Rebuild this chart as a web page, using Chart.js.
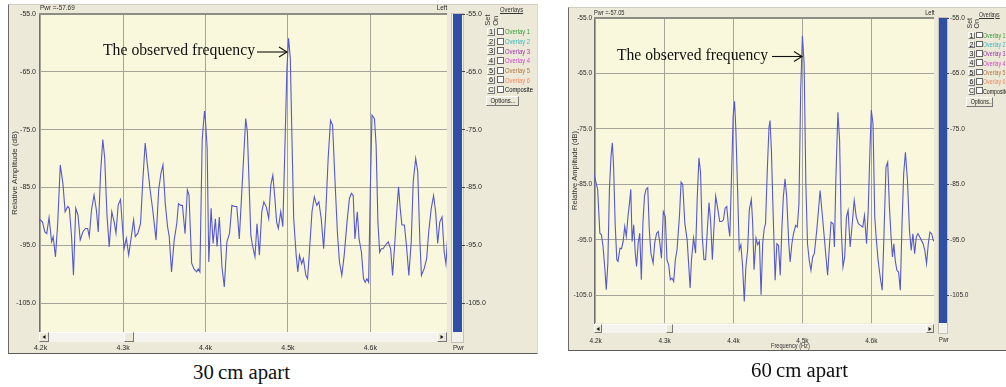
<!DOCTYPE html>
<html><head><meta charset="utf-8">
<script src="https://cdn.jsdelivr.net/npm/chart.js@4.4.0/dist/chart.umd.min.js"></script>
<style>
html,body{margin:0;padding:0;background:#fff;}
body{width:1006px;height:387px;position:relative;overflow:hidden;font-family:'Liberation Sans',Arial,sans-serif;}
.a{position:absolute;box-sizing:border-box;}
.t{position:absolute;white-space:nowrap;color:#2a2a2a;}
.serif{font-family:'Liberation Serif','Times New Roman',serif;color:#111;}
.panel{background:#ece9d8;border-left:1px solid #6a6a6a;border-bottom:1px solid #5c5c5c;border-top:1px solid #cfcdc0;border-right:1px solid #dcdacd;}
.btn{background:#ece9d8;border:1px solid;border-color:#fff #777 #777 #fff;overflow:hidden;}
.cb{background:#fff;border:1px solid #666;}
.in{display:inline-block;transform-origin:50% 50%;}
canvas{position:absolute;}
</style></head><body>
<script>
// ---------------- data ----------------
const yTicks = [-105, -95, -85, -75, -65, -55];
const xTicks = [4200, 4300, 4400, 4500, 4600];
const yRange = [-110, -55];
const pwrRange = [-110, -55];
const pwrReadings = ['-57.69', '-57.05'];
const captions = ['30\u2009cm apart', '60\u2009cm apart'];
const annotationText = 'The observed frequency';
const overlayKeys = ['1', '2', '3', '4', '5', '6', 'C'];
const overlayNames = ['Overlay 1', 'Overlay 2', 'Overlay 3', 'Overlay 4', 'Overlay 5', 'Overlay 6', 'Composite'];

// 30 cm apart
const freq30 = [4198,4202.3,4205.1,4207.4,4210.2,4213.3,4215.2,4218,4220.7,4223.8,4227,4229.7,4232.8,4234.8,4237.5,4239.8,4242.6,4245.3,4248,4251.2,4254.3,4257,4259,4261.7,4264.8,4267.6,4269.9,4272.7,4275.4,4277.7,4280.5,4283.2,4286.3,4289.1,4291.4,4294.1,4296.9,4298.8,4301.2,4304,4306.8,4310,4312.8,4314.8,4318,4321.2,4324,4326.8,4330,4332.8,4336,4340,4343.2,4346,4348.4,4351.2,4354,4356,4358.8,4362,4365.2,4367.2,4370,4372,4375.2,4378,4380,4383.2,4386,4389.2,4391.2,4393.2,4396,4398.8,4400,4402,4404,4406.8,4409.2,4412,4414,4416.8,4420,4422.8,4426,4429.2,4432,4435.2,4438,4441,4448.8,4450.8,4455,4457,4460,4462.5,4465.4,4468.3,4470.8,4473.8,4476.7,4479.2,4481.7,4484.2,4486.3,4488.3,4491.3,4493.8,4496.7,4498.8,4500.8,4502.9,4505,4507,4510,4512,4514,4516.7,4518.8,4521.7,4523.8,4525.8,4529.2,4532,4535,4537.5,4540.4,4543.3,4545.8,4548.8,4551.7,4554.2,4557,4560,4562.5,4565.4,4568.3,4571.7,4574.6,4577,4579.2,4581.3,4584.2,4586.3,4589.2,4591.7,4593.8,4595.8,4597.9,4600,4602,4605,4607,4609.2,4611.3,4613.3,4615.4,4618.3,4621.7,4624.6,4627,4630,4632,4634.2,4636.3,4638.3,4641.3,4643.8,4646.7,4649.6,4652,4655,4657.5,4660,4662,4665.4,4668.3,4670.8,4673.8,4676.7,4679.2,4681.7,4684.2,4687,4689.6,4691.7,4694.2];
const amp30 = [-90.4,-91,-92.7,-93,-90.2,-94.4,-93.5,-97,-91.2,-81.1,-84.3,-89.2,-88.3,-88.6,-93.5,-100.2,-88.6,-89.8,-94.1,-92.7,-92.1,-92.1,-93.5,-88.9,-86.3,-88.9,-92.7,-82.5,-76.7,-79.9,-89.8,-95.3,-89.2,-90.9,-92.9,-88,-87.1,-90.9,-95.6,-93.8,-96.7,-93.5,-90.6,-93.5,-92.9,-91.2,-83.7,-77.3,-81.7,-85.4,-88.9,-94.1,-85.4,-82.5,-81.1,-87.8,-91.8,-93.5,-99.6,-94.1,-91.2,-87.8,-88.1,-88.1,-93,-85.4,-86.3,-98.1,-99.1,-99.6,-99.1,-99.6,-76.7,-71.8,-73.5,-78.2,-97.9,-88.6,-94.7,-90.4,-95.2,-90.1,-98.8,-102.2,-94.4,-92.9,-88.1,-88.3,-88.3,-93.9,-73.1,-75.4,-93.3,-95,-97,-91.3,-96.7,-89.2,-87.5,-88.4,-90.4,-84.6,-82.9,-86.9,-91,-92.1,-89.2,-91.8,-76,-64.4,-59.2,-62.7,-77.1,-90.4,-96.7,-99.6,-96.7,-98.2,-97.3,-100.2,-100.8,-96.7,-89.2,-86.6,-88.1,-87.5,-90.4,-95.6,-89.8,-80,-73.4,-74.2,-83.5,-92.7,-97.9,-100.2,-96.7,-91,-86.9,-86,-86.4,-93.9,-89.2,-93.9,-96.2,-100.8,-101.4,-100.8,-101.4,-85.2,-72.5,-73.1,-77.7,-91,-96.2,-95.6,-95.6,-95,-94.4,-95.6,-100.2,-93.9,-89.2,-84.9,-88.7,-91.5,-91.5,-95,-100.2,-94.4,-84,-80,-82.3,-93.9,-100.2,-99,-97.3,-92.7,-88.7,-86.4,-89.2,-94.7,-91,-90.1,-96.2,-98.2,-92.7];

// 60 cm apart
const freq60 = [4197.5,4202.8,4206,4208.3,4210.6,4213,4215.3,4217.6,4219.9,4222.2,4224.1,4225.9,4228.2,4230.6,4232.4,4235.2,4237.5,4239.8,4242.1,4244.4,4246.8,4249.1,4250.9,4252.8,4255.1,4257.4,4259.3,4261.6,4263.9,4266.2,4268.5,4270.8,4273.1,4275.5,4277.8,4280.1,4283.3,4285.6,4288.4,4290.7,4293.1,4295.4,4298.1,4301,4303.4,4305.9,4308.3,4310.7,4313.2,4315.6,4318,4321.5,4323.9,4326.3,4329.3,4332.7,4335.1,4337,4339,4342,4344.9,4347.3,4349.8,4352.2,4354.6,4357.1,4359.5,4362,4364.4,4366.8,4369.3,4371.7,4374.1,4377,4380,4382.9,4385.4,4387.8,4390.2,4392.7,4394.6,4397,4399.5,4401.5,4403.4,4405.9,4408.3,4410.7,4413.2,4415.6,4418,4420.5,4422.9,4425.9,4427.8,4429.8,4432.7,4435.1,4437.6,4440,4442.4,4444.5,4446.5,4449,4451.5,4453,4455,4457.4,4460.4,4462.9,4465.3,4467.8,4470.3,4472.3,4474.8,4477.2,4480.2,4482.2,4484.7,4487.1,4490.1,4492.6,4495,4497.5,4500,4502.5,4505,4507.4,4509.9,4512.4,4514.9,4517.3,4520.8,4523.3,4525.7,4528.7,4531.7,4534.2,4536.6,4539.1,4541.6,4544.6,4546.5,4548.5,4551.5,4554,4556.4,4558.9,4561.4,4563.9,4566.3,4569.3,4572.3,4575.2,4578.2,4581.2,4584.2,4587.6,4590.1,4593.1,4595.5,4598,4600,4602.5,4605,4607.4,4609.9,4612.9,4615.8,4618.3,4621.3,4623.8,4626.2,4628.7,4630.7,4632.7,4634.7,4637.1,4639.6,4642.1,4644.6,4647,4649.5,4652.5,4655.4,4657.9,4660.4,4662.9,4665.3,4667.8,4670.3,4672.8,4675.2,4677.7,4680.2,4682.7,4685.1,4687.6,4690.1,4692.6,4695];
const amp60 = [-83.2,-85.9,-93.8,-94.1,-96.2,-99.8,-104,-99.2,-85.9,-79.9,-77.5,-81.7,-92,-98.6,-98.9,-96.5,-96.6,-95.3,-92.6,-94.4,-90.8,-88.3,-85.9,-95.3,-92.3,-97.4,-99.8,-95.6,-93.8,-102.2,-92,-87.1,-85.9,-85.6,-93.2,-97.4,-99.2,-95.6,-93.8,-93.5,-95.6,-98.3,-89.9,-90.8,-98.6,-99.5,-102.2,-101.9,-102.5,-98.6,-96.8,-90.8,-84.6,-85,-92,-95,-99.8,-103.7,-98.6,-94.7,-97.4,-87.7,-80.2,-82.9,-94.4,-98.6,-98.6,-93.2,-88.3,-91.7,-98.6,-92.6,-87.1,-89.3,-91.7,-91.7,-91.4,-89.3,-89,-92.6,-94.4,-84.1,-72.7,-70,-75.1,-85.9,-96.8,-95.9,-99.8,-106.1,-99.8,-96.8,-89.6,-87.7,-92,-100.4,-94.7,-95.9,-95.3,-104.9,-95.6,-93,-92.1,-82.5,-74.7,-73.5,-78.9,-89.7,-102.3,-95.7,-96,-101.4,-92.7,-87.3,-84,-87.3,-95.7,-99,-95.7,-93.9,-92.4,-92.7,-88.5,-68.1,-58.2,-63.3,-84.9,-95.7,-98.7,-100.5,-98.1,-97.5,-93.3,-89.7,-86.1,-90.3,-94.5,-98.1,-101.4,-96.3,-91.8,-92.1,-96.3,-84.3,-72,-77.1,-93,-99.9,-98.1,-90.9,-89.7,-96.3,-92.1,-87.9,-90.9,-92.1,-92.4,-92.7,-90.6,-95.7,-89.7,-78.9,-71.6,-74.1,-90.9,-95.1,-98.7,-101.7,-104.1,-94.5,-81.9,-81,-88.8,-94.5,-98.1,-95.7,-98.7,-100.5,-100.8,-104.1,-92.1,-83.1,-79.2,-84.3,-93.3,-96.9,-93.9,-97.5,-94.5,-93.9,-94.5,-95.1,-95.7,-96.9,-99.3,-95.7,-93.6,-93.9,-95.1,-95.4,-94.2];

// ---------------- styling / layout ----------------
const UI = "'Liberation Sans',Arial,sans-serif";
const GRID = '#a4a39c';
const TXT = '#2a2a2a';
const TRACE = '#5559cc';
const PLOTBG = '#faf8dc';
const METER = '#2f4ea6';
const overlayColors = ['#3a9a3a', '#3fb7bf', '#9a3aa8', '#cf48c8', '#b07842', '#f08a5c', '#111'];

const plotBg = {
  id: 'plotBg',
  beforeDraw(c) {
    const { ctx, chartArea: a } = c;
    ctx.save(); ctx.fillStyle = PLOTBG;
    ctx.fillRect(a.left, a.top, a.right - a.left, a.bottom - a.top);
    ctx.restore();
  },
  afterDraw(c) {
    const { ctx, chartArea: a } = c;
    ctx.save(); ctx.strokeStyle = '#8e8d86'; ctx.lineWidth = 2;
    ctx.beginPath(); ctx.moveTo(a.left, a.top); ctx.lineTo(a.right, a.top); ctx.stroke();
    ctx.restore();
  }
};

function div(cls, x, y, w, h, extra) {
  const d = document.createElement('div');
  d.className = 'a ' + (cls || '');
  d.style.cssText += `left:${x}px;top:${y}px;width:${w}px;height:${h}px;` + (extra || '');
  document.body.appendChild(d);
  return d;
}
// text with its vertical centre at yc; sx = horizontal squeeze of the UI font
function txt(text, x, yc, size, extra, alignRight, sx) {
  const d = document.createElement('div');
  d.className = 't';
  d.textContent = text;
  const pos = alignRight ? `right:${1006 - x}px;` : `left:${x}px;`;
  d.style.cssText += pos + `top:${yc - size / 2}px;font-size:${size}px;line-height:${size}px;` + (extra || '');
  if (sx) { d.style.transformOrigin = alignRight ? '100% 50%' : '0 50%'; d.style.transform = `scaleX(${sx})`; }
  document.body.appendChild(d);
  return d;
}
function canvasAt(x, y, w, h) {
  const c = document.createElement('canvas');
  c.width = w; c.height = h;
  c.style.left = x + 'px'; c.style.top = y + 'px';
  c.style.width = w + 'px'; c.style.height = h + 'px';
  document.body.appendChild(c);
  return c;
}
function fitWidth(d, w) {
  const r = w / d.getBoundingClientRect().width;
  d.style.transformOrigin = '0 0';
  d.style.transform = `scaleX(${r})`;
}

function lineChart(L, xs, ys) {
  const cv = canvasAt(L.cx, L.cy, L.cw, L.ch);
  const pts = xs.map((x, i) => ({ x, y: ys[i] }));
  return new Chart(cv, {
    type: 'line',
    data: { datasets: [{ data: pts, borderColor: TRACE, borderWidth: 1.1, pointRadius: 0, tension: 0, fill: false }] },
    options: {
      responsive: false, animation: false, devicePixelRatio: 1, events: [],
      layout: { padding: { top: L.padTop, right: L.padRight, left: 0, bottom: 0 } },
      plugins: { legend: { display: false }, tooltip: { enabled: false } },
      scales: {
        x: {
          type: 'linear', min: L.xMin, max: L.xMax,
          afterBuildTicks: s => { s.ticks = xTicks.map(v => ({ value: v })); },
          afterFit: s => { s.height = L.xAxisH; },
          grid: { color: GRID, lineWidth: 1, drawTicks: false },
          border: { display: false },
          ticks: { padding: L.xPad, autoSkip: false, maxRotation: 0, color: TXT,
                   font: { family: UI, size: L.fs }, callback: v => (v / 1000).toFixed(1) + 'k' }
        },
        y: {
          min: yRange[0], max: yRange[1],
          afterBuildTicks: s => { s.ticks = yTicks.map(v => ({ value: v })); },
          afterFit: s => { s.width = L.yAxisW; },
          grid: { color: GRID, lineWidth: 1, drawTicks: false },
          border: { display: true, color: '#707070', width: 1 },
          ticks: { padding: L.yPad, color: TXT, font: { family: UI, size: L.fs }, callback: v => v.toFixed(1) },
          title: { display: true, text: 'Relative Amplitude (dB)', color: '#333',
                   font: { family: UI, size: L.tfs }, padding: { top: L.tPad, bottom: 0 } }
        }
      }
    },
    plugins: [plotBg]
  });
}

function meterChart(M) {
  const cv = canvasAt(M.cx, M.cy, M.cw, M.ch);
  return new Chart(cv, {
    type: 'bar',
    data: { labels: ['Pwr'], datasets: [{ data: [pwrRange], backgroundColor: METER, borderWidth: 0,
             barPercentage: 1, categoryPercentage: 1 }] },
    options: {
      responsive: false, animation: false, devicePixelRatio: 1, events: [],
      layout: { padding: { left: M.padLeft, top: M.padTop, bottom: M.padBottom, right: 0 } },
      plugins: { legend: { display: false }, tooltip: { enabled: false } },
      scales: {
        x: { display: false },
        y: {
          position: 'right', min: yRange[0], max: yRange[1],
          afterBuildTicks: s => { s.ticks = yTicks.map(v => ({ value: v })); },
          afterFit: s => { s.width = M.axisW; },
          grid: { drawOnChartArea: false, drawTicks: true, tickLength: M.tick, tickColor: '#444', lineWidth: 1 },
          border: { display: false },
          ticks: { padding: 1, color: TXT, font: { family: UI, size: M.fs }, callback: v => v.toFixed(1) }
        }
      }
    }
  });
}

function arrowBtn(x, y, w, h, dir) {
  const b = div('btn', x, y, w, h);
  const tri = document.createElement('div');
  tri.style.cssText = 'position:absolute;width:0;height:0;top:50%;left:50%;transform:translate(-50%,-50%);' +
    'border-top:2.5px solid transparent;border-bottom:2.5px solid transparent;' +
    (dir < 0 ? 'border-right:3px solid #111;' : 'border-left:3px solid #111;');
  b.appendChild(tri);
}
function btnText(b, text, fs, sx, h, underline) {
  b.style.cssText += `font-size:${fs}px;line-height:${h - 2}px;text-align:center;color:#222;white-space:nowrap;`;
  const s = document.createElement('span');
  s.className = 'in';
  s.textContent = text;
  s.style.transform = `scaleX(${sx})`;
  if (underline) s.style.textDecoration = 'underline';
  b.appendChild(s);
}

function overlayPanel(O) {
  txt('Overlays', O.titleX, O.titleY, O.fs, 'text-decoration:underline;color:#333;', false, O.sx);
  txt('Set', O.setX, O.setY, O.fs, 'transform:rotate(-90deg);transform-origin:0 50%;color:#333;');
  txt('On', O.onX, O.setY, O.fs, 'transform:rotate(-90deg);transform-origin:0 50%;color:#333;');
  overlayKeys.forEach((k, i) => {
    const y = O.row0 + i * O.rowH;
    const b = div('btn', O.x, y, O.bw, O.bh);
    btnText(b, k, O.fs, 1, O.bh, true);
    div('cb', O.x + O.cbDx, y, O.cbw, O.cbw);
    txt(overlayNames[i], O.x + O.lblDx, y + O.bh / 2, O.fs, `color:${overlayColors[i]};`, false, O.sx);
  });
  const ob = div('btn', O.optX, O.optY, O.optW, O.optH);
  btnText(ob, 'Options...', O.fs, O.sx, O.optH, false);
}

// ---------------- panel 1 (30 cm) ----------------
div('panel', 8, 4, 530, 350);
lineChart({ cx: 9, cy: 4, cw: 441, ch: 350, padTop: 10, padRight: 3, yAxisW: 30, xAxisH: 22,
            xPad: 12, yPad: 3, fs: 7, tfs: 8, tPad: 1, xMin: 4198, xMax: 4693 }, freq30, amp30);
div('', 451, 13, 13, 330, 'background:#f2f1ea;border:1px solid #c4c2b6;');
meterChart({ cx: 451, cy: 4, cw: 46, ch: 350, padLeft: 2, padTop: 10, padBottom: 22, axisW: 35, tick: 3, fs: 7 });
div('', 39, 332, 408, 10, 'background:#f4f3ee;border-top:1px solid #fff;');
arrowBtn(39, 332, 10, 10, -1);
div('btn', 124, 332, 10, 10);
arrowBtn(437, 332, 10, 10, 1);
txt('Pwr =' + pwrReadings[0], 40, 8, 8, '', false, 0.8);
txt('Left', 447, 8, 8, '', true, 0.8);
txt('Pwr', 453, 348, 8, '', false, 0.8);
overlayPanel({ titleX: 500, titleY: 10, setX: 488, onX: 495.5, setY: 26, fs: 7.5, sx: 0.78,
               x: 487, row0: 28, rowH: 9.67, bw: 8, bh: 8, cbDx: 9.5, cbw: 7, lblDx: 18,
               optX: 486, optY: 96, optW: 33, optH: 10 });

// ---------------- panel 2 (60 cm) ----------------
div('panel', 568, 7, 440, 344);
lineChart({ cx: 569, cy: 7, cw: 368, ch: 344, padTop: 11, padRight: 3, yAxisW: 25, xAxisH: 28,
            xPad: 14, yPad: 2, fs: 6.5, tfs: 7.5, tPad: 1.5, xMin: 4197.5, xMax: 4691 }, freq60, amp60);
div('', 938, 17, 10, 317, 'background:#f2f1ea;border:1px solid #c4c2b6;');
meterChart({ cx: 937, cy: 7, cw: 40, ch: 344, padLeft: 2, padTop: 11, padBottom: 28, axisW: 30, tick: 2, fs: 6.5 });
div('', 594, 324, 340, 9, 'background:#f4f3ee;border-top:1px solid #fff;');
arrowBtn(594, 324, 8, 9, -1);
div('btn', 666, 324, 7, 9);
arrowBtn(926, 324, 8, 9, 1);
txt('Pwr =' + pwrReadings[1], 594, 12.5, 7.5, '', false, 0.75);
txt('Left', 935, 12.5, 7.5, '', true, 0.75);
txt('Pwr', 939, 340, 7.5, '', false, 0.75);
txt('Frequency (Hz)', 771, 346, 7.5, 'color:#333;', false, 0.75);
overlayPanel({ titleX: 979, titleY: 14, setX: 969, onX: 976, setY: 28, fs: 7, sx: 0.75,
               x: 968, row0: 31.5, rowH: 9.33, bw: 7, bh: 7.5, cbDx: 8, cbw: 6.5, lblDx: 15,
               optX: 966, optY: 97, optW: 27, optH: 9.5 });

// ---------------- annotations & captions ----------------
const an1 = txt(annotationText, 103, 50, 16); an1.classList.add('serif'); fitWidth(an1, 152);
const an2 = txt(annotationText, 617, 54.5, 16); an2.classList.add('serif'); fitWidth(an2, 151);
const c1 = txt(captions[0], 193, 372, 20); c1.classList.add('serif'); fitWidth(c1, 97);
const c2 = txt(captions[1], 751, 370, 20); c2.classList.add('serif'); fitWidth(c2, 97);

const svgNS = 'http://www.w3.org/2000/svg';
const svg = document.createElementNS(svgNS, 'svg');
svg.setAttribute('width', 1006); svg.setAttribute('height', 387);
svg.style.cssText = 'position:absolute;left:0;top:0;pointer-events:none;';
svg.innerHTML = '<g stroke="#111" stroke-width="1.1" fill="none">' +
  '<line x1="257" y1="52" x2="287" y2="52"/><polyline points="279,47 287,52 279,57"/>' +
  '<line x1="772" y1="56.5" x2="802" y2="56.5"/><polyline points="794,51.5 802,56.5 794,61.5"/></g>';
document.body.appendChild(svg);
</script>
</body></html>
